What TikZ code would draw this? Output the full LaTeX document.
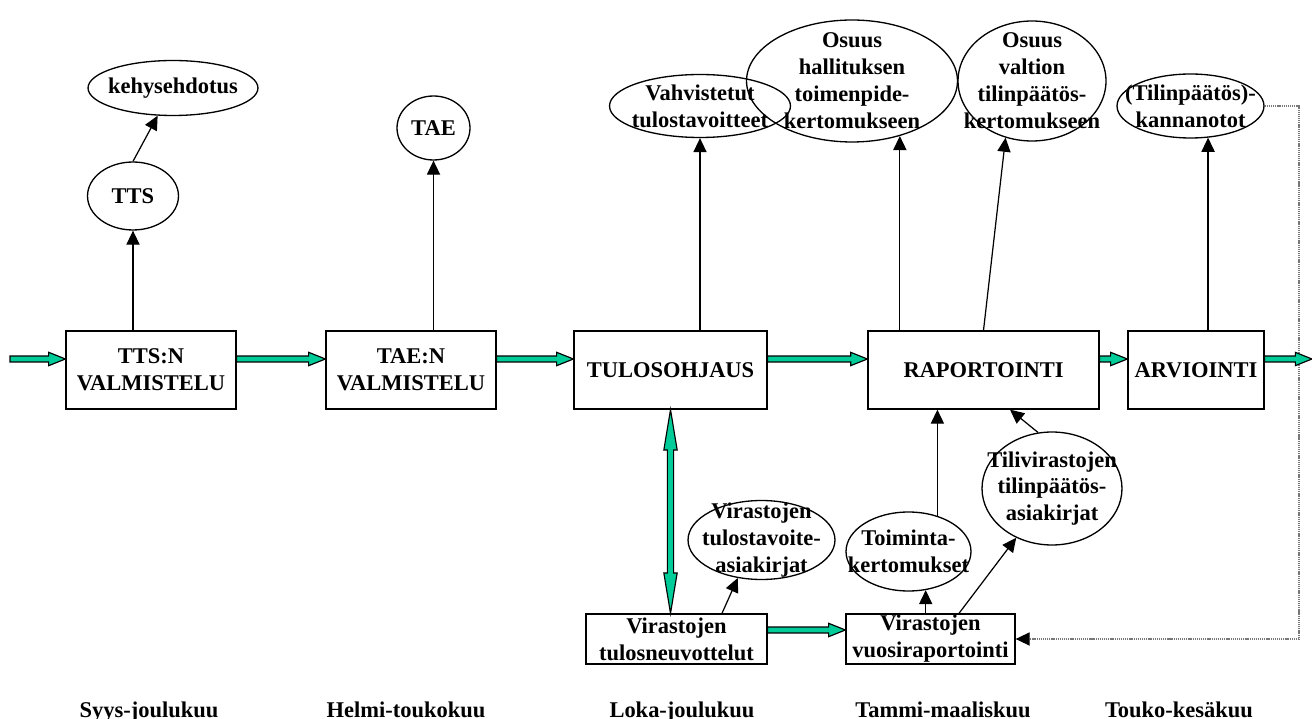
\documentclass[tikz,border=0pt]{standalone}
\usepackage{fontspec}
\setmainfont{Liberation Serif}
\usetikzlibrary{arrows.meta,calc,shapes.geometric}
\definecolor{gfill}{RGB}{0,204,153}
\definecolor{dotgray}{RGB}{120,120,120}
\tikzset{
  box/.style={draw, line width=0.75pt, rectangle, minimum width=#1, minimum height=1.56cm, inner sep=0pt, align=center},
  lbox/.style={draw, line width=0.75pt, rectangle, minimum width=#1, minimum height=1.0cm, inner sep=0pt, align=center},
  ell/.style 2 args={draw, line width=0.75pt, ellipse, minimum width=#1, minimum height=#2, inner sep=0pt},
  arr/.style={-{Triangle[length=8pt,width=7.5pt]}, line width=0.7pt},
  dotline/.style={draw=dotgray, line width=0.7pt, dash pattern=on 0.7pt off 0.5pt, -{Triangle[length=8pt,width=7.5pt,fill=black,color=black]}},
  mlabel/.style={anchor=base, inner sep=0pt},
  garrow/.style={draw=black, line width=0.65pt, fill=gfill, to path={
    let \p1=(\tikztostart), \p2=(\tikztotarget),
        \n1={atan2(\y2-\y1,\x2-\x1)}, \n2={veclen(\x2-\x1,\y2-\y1)} in
    {[shift={(\p1)}, rotate=\n1]
      (0pt,-1.7pt) -- (\n2*1pt-9.5pt,-1.7pt) -- (\n2*1pt-9.5pt,-3.8pt) -- (\n2*1pt,0pt)
      -- (\n2*1pt-9.5pt,3.8pt) -- (\n2*1pt-9.5pt,1.7pt) -- (0pt,1.7pt) -- cycle}
  }},
  gdarrow/.style={draw=black, line width=0.65pt, fill=gfill, to path={
    let \p1=(\tikztostart), \p2=(\tikztotarget),
        \n1={atan2(\y2-\y1,\x2-\x1)}, \n2={veclen(\x2-\x1,\y2-\y1)} in
    {[shift={(\p1)}, rotate=\n1]
      (0pt,0pt) -- (23pt,3.8pt) -- (23pt,1.8pt) -- (\n2*1pt-23pt,1.8pt) -- (\n2*1pt-23pt,3.8pt)
      -- (\n2*1pt,0pt) -- (\n2*1pt-23pt,-3.8pt) -- (\n2*1pt-23pt,-1.8pt) -- (23pt,-1.8pt) -- (23pt,-3.8pt) -- cycle}
  }}
}
\begin{document}
\begin{tikzpicture}[x=0.02cm, y=-0.02cm, font=\bfseries\fontsize{12.8}{15.3}\selectfont]
\useasboundingbox (0,0) rectangle (1312,719);
% main process boxes
\node[box=3.4cm] (ttsn) at (151,370) {TTS:N\\VALMISTELU};
\node[box=3.4cm] (taen) at (411,370) {TAE:N\\VALMISTELU};
\node[box=3.86cm] (tulos) at (670.5,370) {TULOSOHJAUS};
\node[box=4.62cm] (rap) at (983.5,370) {RAPORTOINTI};
\node[box=2.72cm] (arv) at (1196,370) {ARVIOINTI};
\node[lbox=3.62cm] (neuv) at (676.5,639) {Virastojen\\tulosneuvottelut};
\node[lbox=3.38cm] (vuosi) at (930.5,639) {Virastojen\\vuosiraportointi};
% ellipses
\node[ell={3.4cm}{1.1cm}, label={center:kehysehdotus}] (kehys) at (173,88) {};
\node[ell={1.82cm}{1.36cm}, label={center:TTS}] (ttsE) at (133,196) {};
\node[ell={1.46cm}{1.28cm}, label={center:TAE}] (taeE) at (433.5,128) {};
\node[ell={3.62cm}{1.26cm}, label={[align=center]center:{Vahvistetut\\tulostavoitteet}}] (vahv) at (700,106) {};
\node[ell={4.22cm}{2.44cm}, label={[align=center]center:{Osuus\\hallituksen\\toimenpide-\\kertomukseen}}] (osH) at (852,81) {};
\node[ell={2.96cm}{2.4cm}, label={[align=center]center:{Osuus\\valtion\\tilinpäätös-\\kertomukseen}}] (osV) at (1032,81) {};
\node[ell={2.94cm}{1.28cm}, label={[align=center]center:{(Tilinpäätös)-\\kannanotot}}] (kann) at (1190.5,106) {};
\node[ell={2.94cm}{1.58cm}, label={[align=center]center:{Virastojen\\tulostavoite-\\asiakirjat}}] (virTA) at (761.5,540) {};
\node[ell={2.5cm}{1.58cm}, label={[align=center]center:{Toiminta-\\kertomukset}}] (toim) at (908.5,551.5) {};
\node[ell={2.8cm}{2.26cm}, label={[align=center]center:{Tilivirastojen\\tilinpäätös-\\asiakirjat}}] (tili) at (1052,488.5) {};
% month labels
\node[mlabel] (m1) at (149,717) {Syys-joulukuu};
\node[mlabel] (m2) at (406,717) {Helmi-toukokuu};
\node[mlabel] (m3) at (682,717) {Loka-joulukuu};
\node[mlabel] (m4) at (943,717) {Tammi-maaliskuu};
\node[mlabel] (m5) at (1179,717) {Touko-kesäkuu};
% black arrows
\draw[arr] (ttsE.south |- ttsn.north) -- (ttsE.south);
\draw[arr] (ttsE.north) -- (kehys.241);
\draw[arr] (taeE.south |- taen.north) -- (taeE.south);
\draw[arr] (vahv.south |- tulos.north) -- (vahv.south);
\draw[arr] (osH.-49 |- rap.north) -- (osH.-49);
\draw[arr] (rap.north) -- (osV.245);
\draw[arr] (kann.-61 |- arv.north) -- (kann.-61);
\draw[arr] ([xshift=0.91cm]neuv.north) -- (virTA.238);
\draw[arr] (toim.-66 |- vuosi.north) -- (toim.-66);
\draw[arr] (toim.51) -- (toim.51 |- rap.south);
\draw[arr] (tili.104) -- ([xshift=0.53cm]rap.south);
\draw[arr] ([xshift=0.57cm]vuosi.north) -- (tili.234);
% dotted feedback
\coordinate (dc) at (1299,639);
\draw[dotline] (kann.east) -| (dc) -- (vuosi.east);
% green flow arrows
\coordinate (in) at (10,359);
\coordinate (out) at (1312,359);
\draw[garrow] (in) to ([yshift=0.22cm]ttsn.west);
\draw[garrow] ([yshift=0.22cm]ttsn.east) to ([yshift=0.22cm]taen.west);
\draw[garrow] ([yshift=0.22cm]taen.east) to ([yshift=0.22cm]tulos.west);
\draw[garrow] ([yshift=0.22cm]tulos.east) to ([yshift=0.22cm]rap.west);
\draw[garrow] ([yshift=0.22cm]rap.east) to ([yshift=0.22cm]arv.west);
\draw[garrow] ([yshift=0.22cm]arv.east) to (out);
\draw[gdarrow] (tulos.south) to (tulos.south |- neuv.north);
\draw[garrow] ([yshift=0.18cm]neuv.east) to ([yshift=0.18cm]vuosi.west);
\end{tikzpicture}
\end{document}
